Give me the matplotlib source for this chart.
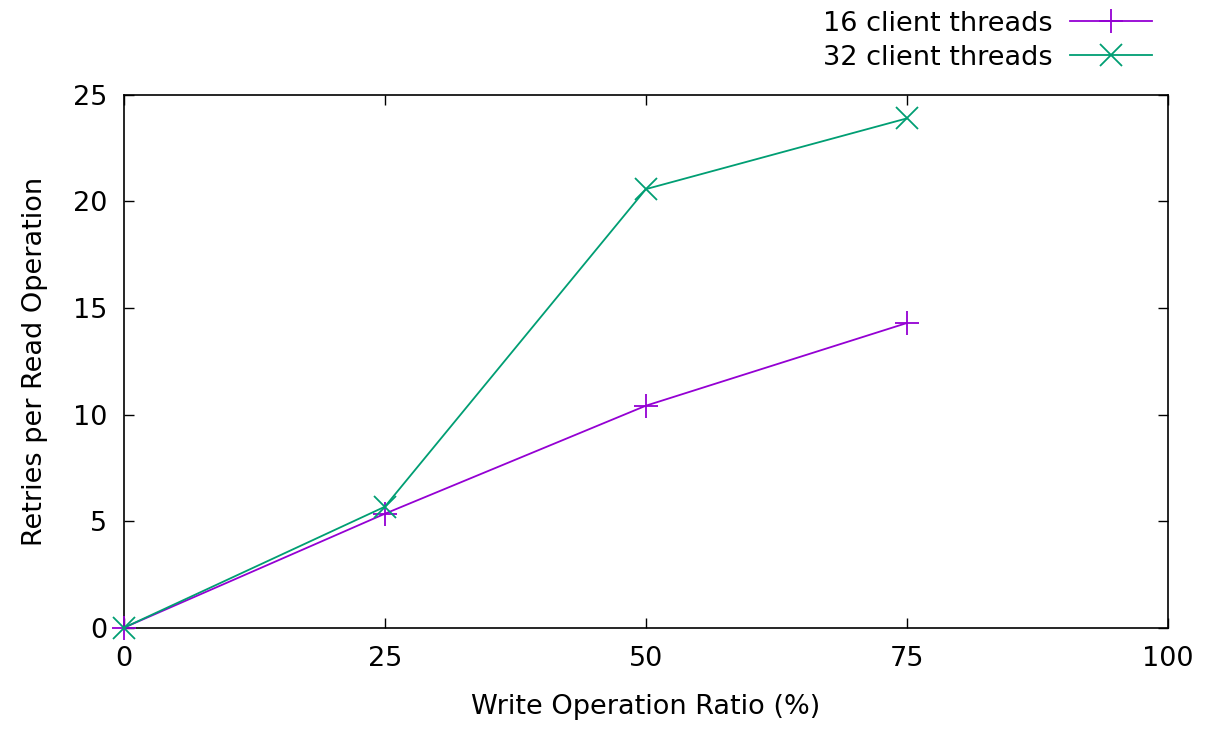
import matplotlib
matplotlib.use("Agg")
import matplotlib.pyplot as plt

# data
write_ratio = [0, 25, 50, 75]
retries_16 = [0, 5.35, 10.42, 14.3]
retries_32 = [0, 5.68, 20.58, 23.9]

plt.rcParams['font.family'] = 'DejaVu Sans'
plt.rcParams['font.size'] = 19.5

fig = plt.figure(figsize=(12.13, 7.3), dpi=100)
ax = fig.add_axes([0.102, 0.140, 0.861, 0.730])

ax.plot(write_ratio, retries_16, color='#9400D3', lw=1.3, marker='+',
        markersize=17, markeredgewidth=1.3, label='16 client threads',
        clip_on=False, zorder=3)
ax.plot(write_ratio, retries_32, color='#009E73', lw=1.3, marker='x',
        markersize=16, markeredgewidth=1.3, label='32 client threads',
        clip_on=False, zorder=3)

ax.set_xlim(0, 100)
ax.set_ylim(0, 25)
ax.set_xticks([0, 25, 50, 75, 100])
ax.set_yticks([0, 5, 10, 15, 20, 25])
ax.tick_params(direction='in', length=7, width=1, top=True, right=True)
ax.tick_params(axis='x', pad=13)
ax.tick_params(axis='y', pad=12)
for s in ax.spines.values():
    s.set_linewidth(1.2)

ax.set_xlabel('Write Operation Ratio (%)', labelpad=16)
ax.set_ylabel('Retries per Read Operation', labelpad=18)

ax.legend(loc='lower right', bbox_to_anchor=(0.9945, 1.025), frameon=False,
          markerfirst=False, handlelength=3.0, handletextpad=0.65,
          labelspacing=0.3, borderaxespad=0)

fig.savefig('out.png', dpi=100)
